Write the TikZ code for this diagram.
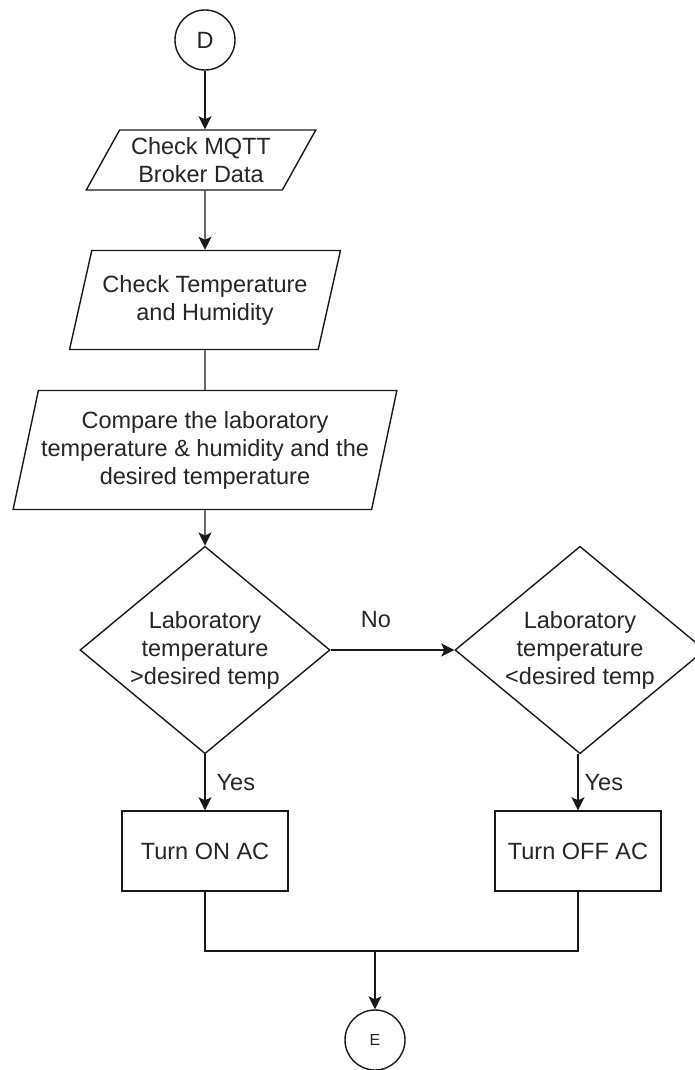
\documentclass[tikz,border=0pt]{standalone}
\usepackage{fontspec}
\setmainfont{Liberation Sans}
\usetikzlibrary{shapes.geometric,arrows.meta}
\begin{document}
\begin{tikzpicture}[x=1pt,y=-1pt,
  every node/.style={font=\fontsize{23.5}{28}\selectfont, text=black!85},
  base/.style={draw=black!90, line width=1.4pt, align=center},
  conn/.style={base, circle, minimum size=60pt, inner sep=0pt},
  io/.style={base, trapezium, trapezium stretches=true, inner sep=0pt},
  proc/.style={base, rectangle, minimum width=166pt, minimum height=80pt},
  dec/.style={base, diamond, minimum width=250pt, minimum height=200pt, inner sep=-5pt},
  wire/.style={line width=1.4pt, draw=black!90},
  arr/.style={wire, -{Stealth[length=13pt,width=13pt,inset=3pt]}},
  lbl/.style={inner sep=0pt}
]
% page
\fill[white] (0,0) rectangle (695,1070);
\useasboundingbox (0,0) rectangle (695,1070);

% flow nodes
\node[conn] (d) at (205,40) {D};
\node[io, minimum width=230pt, minimum height=60pt,
      trapezium left angle=57.7, trapezium right angle=122.3] (p1) at (201,160) {Check MQTT\\Broker Data};
\node[io, minimum width=271pt, minimum height=99pt,
      trapezium left angle=68, trapezium right angle=112] (p2) at (205,300) {Check Temperature\\and Humidity};
\node[io, minimum width=385pt, minimum height=119pt,
      trapezium left angle=72.3, trapezium right angle=107.7] (p3) at (205,450) {Compare the laboratory\\temperature \& humidity and the\\desired temperature};
\node[dec] (q1) at (205,650) {Laboratory\\temperature\\>desired temp};
\node[dec] (q2) at (580,650) {Laboratory\\temperature\\<desired temp};
\node[proc] (b1) at (205,851) {Turn ON AC};
\node[proc] (b2) at (578,851) {Turn OFF AC};
\node[conn, font=\fontsize{16}{19}\selectfont] (e) at (375,1040) {E};
\coordinate (j) at (375,951);

% connectors
\draw[arr] (d.south) -- (d.south |- p1.north);
\draw[arr] (d.south |- p1.south) -- (p2.north);
\draw[wire] (p2.south) -- (p3.north);
\draw[arr] (p3.south) -- (q1.north);
\draw[arr] (q1.east) -- (q2.west)
  node[lbl, pos=0.365, yshift=30pt] (no) {No};
\draw[arr] (q1.south) -- (q1.south |- b1.north)
  node[lbl, midway, right=11pt] (y1) {Yes};
\draw[arr] (q2.south -| b2.north) -- (b2.north)
  node[lbl, midway, right=6pt] (y2) {Yes};
\draw[wire] (b1.south) |- (j);
\draw[wire] (b2.south) |- (j);
\draw[arr] (j) -- (e.north);
\end{tikzpicture}
\end{document}
